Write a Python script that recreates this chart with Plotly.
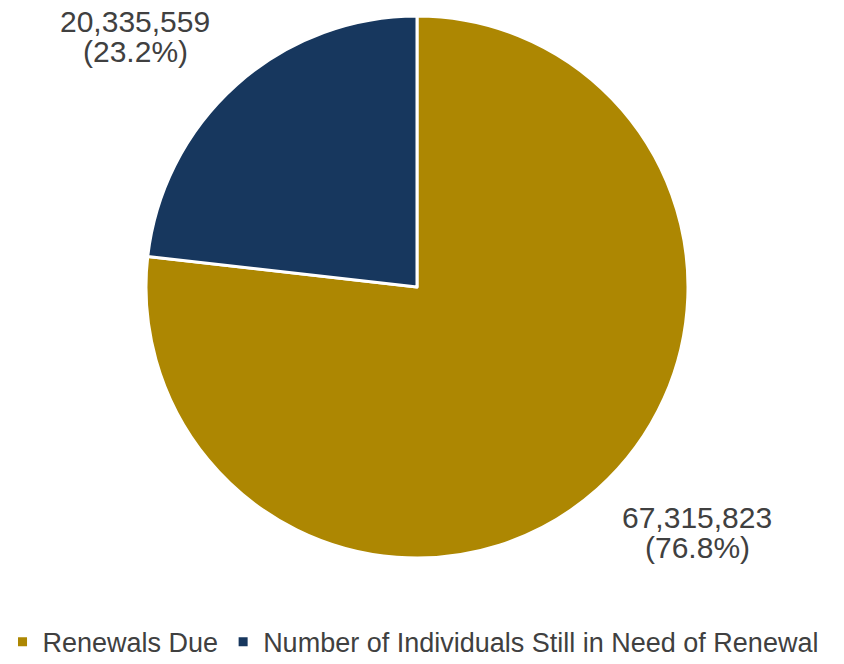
import plotly.graph_objects as go

labels = ["Renewals Due", "Number of Individuals Still in Need of Renewal"]
values = [67315823, 20335559]
colors = ["#AD8702", "#17375E"]

W, H = 844, 664
total = sum(values)

fig = go.Figure(go.Pie(
    labels=labels,
    values=values,
    sort=False,
    direction="clockwise",
    rotation=0,
    marker=dict(colors=colors, line=dict(color="white", width=3)),
    textinfo="none",
    hoverinfo="label+value+percent",
    domain=dict(x=[146 / W, 688 / W], y=[106 / H, 648 / H]),
))

# label anchor points (pixel centres) for each slice's two text lines
label_pos = {
    "Renewals Due": (697, 517),
    "Number of Individuals Still in Need of Renewal": (135, 22),
}
font = dict(family="Liberation Sans, Arial, sans-serif", size=30, color="#404040")
annotations = []
for lab, val in zip(labels, values):
    px, py = label_pos[lab]
    pct = val / total * 100
    annotations.append(dict(x=px / W, y=1 - py / H, xref="paper", yref="paper",
                            text=f"{val:,}", showarrow=False, font=font,
                            xanchor="center", yanchor="middle"))
    annotations.append(dict(x=px / W, y=1 - (py + 30) / H, xref="paper", yref="paper",
                            text=f"({pct:.1f}%)", showarrow=False, font=font,
                            xanchor="center", yanchor="middle"))

fig.update_layout(
    width=W, height=H,
    margin=dict(l=0, r=0, t=0, b=0, autoexpand=False),
    paper_bgcolor="white",
    plot_bgcolor="white",
    annotations=annotations,
    showlegend=True,
    legend=dict(
        orientation="h",
        x=0.003, xanchor="left",
        y=-0.004, yanchor="bottom",
        font=dict(family="Liberation Sans, Arial, sans-serif", size=27, color="#404040"),
        traceorder="normal",
        bgcolor="rgba(0,0,0,0)",
    ),
)

fig.write_html("out.html")
